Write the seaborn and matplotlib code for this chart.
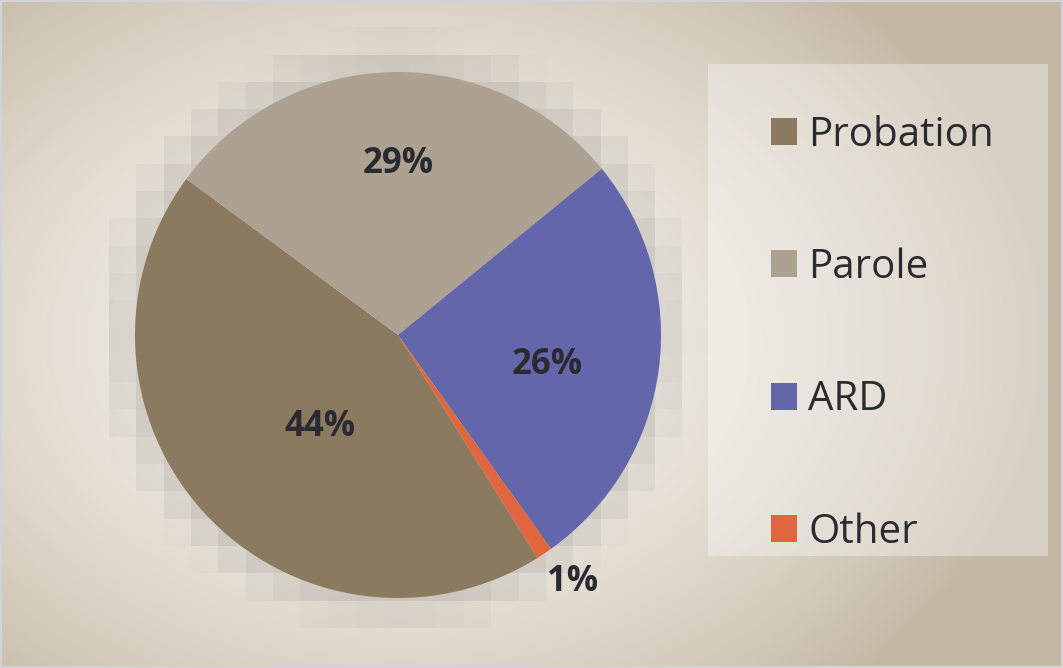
import numpy as np
import seaborn as sns
import matplotlib.pyplot as plt
from matplotlib.patches import Rectangle

# data
categories = ['Probation', 'Parole', 'ARD', 'Other']
shares = [44, 29, 26, 1]
colors = ['#8b7960', '#ada291', '#6466ab', '#e06640']

# label placement per slice: radius (fraction of pie radius), angle nudge (deg)
label_radius = [0.46, 0.65, 0.58, 1.15]
label_nudge = [7, -1.4, -3.8, 1.4]

sns.set_theme(style='white')
plt.rcParams['font.family'] = ['Open Sans', 'DejaVu Sans']
text_color = '#2a2a31'

W, H = 1063, 668
fig = plt.figure(figsize=(W / 100, H / 100), dpi=100)

# background radial gradient
bg = fig.add_axes([0, 0, 1, 1])
yy, xx = np.mgrid[0:H, 0:W]
t = np.sqrt(((xx - 400) / 650) ** 2 + ((yy - 340) / 480) ** 2)
t = np.clip(t, 0, 1) ** 1.8
c0 = np.array([245, 242, 236]) / 255
c1 = np.array([196, 184, 164]) / 255
img = c0[None, None, :] + (c1 - c0)[None, None, :] * t[..., None]
bg.imshow(img, extent=(0, W, H, 0), aspect='auto')

# blocky soft shadow behind the pie
cx, cy, R = 398, 335, 263
blk = 27.3
nx, ny = int(np.ceil(W / blk)), int(np.ceil(H / blk))
by, bx = np.mgrid[0:ny, 0:nx]
d = np.hypot((bx + 0.5) * blk - cx + 2, (by + 0.5) * blk - cy + 2)
alpha = np.clip(1 - (d - R + 5) / 44, 0, 1) ** 1.1 * 0.16
shadow = np.zeros((ny, nx, 4))
shadow[..., :3] = 0.25
shadow[..., 3] = alpha
bg.imshow(shadow, extent=(0, nx * blk, ny * blk, 0), interpolation='nearest', aspect='auto')
bg.set_xlim(0, W)
bg.set_ylim(H, 0)
bg.axis('off')

# legend panel
fig.patches.append(Rectangle((708 / W, 1 - 556 / H), 340 / W, 492 / H, transform=fig.transFigure,
                             facecolor='white', alpha=0.35, edgecolor='none', zorder=1))
# outer border
fig.patches.append(Rectangle((0, 0), 1, 1, transform=fig.transFigure, facecolor='none',
                             edgecolor='#d2d2d8', linewidth=3, zorder=5))

# pie
ax = fig.add_axes([(cx - R) / W, (H - cy - R) / H, 2 * R / W, 2 * R / H])
wedges, _ = ax.pie(shares, colors=colors, startangle=-58, counterclock=False,
                   wedgeprops=dict(linewidth=0))
ax.set_xlim(-1, 1)
ax.set_ylim(-1, 1)
ax.set_aspect('equal')
ax.axis('off')

for w, v, r, nudge in zip(wedges, shares, label_radius, label_nudge):
    ang = np.deg2rad((w.theta1 + w.theta2) / 2 + nudge)
    ax.text(r * np.cos(ang), r * np.sin(ang), f'{v}%', ha='center', va='center',
            fontsize=25, fontweight='bold', color=text_color)

leg = fig.legend(wedges, categories, loc='upper left', bbox_to_anchor=(751 / W, 1 - 95 / H),
                 frameon=False, fontsize=29, handlelength=0.65, handleheight=0.65,
                 handletextpad=0.27, labelspacing=2.28, borderpad=0)
for txt in leg.get_texts():
    txt.set_color(text_color)

fig.savefig('out.png', dpi=100)
